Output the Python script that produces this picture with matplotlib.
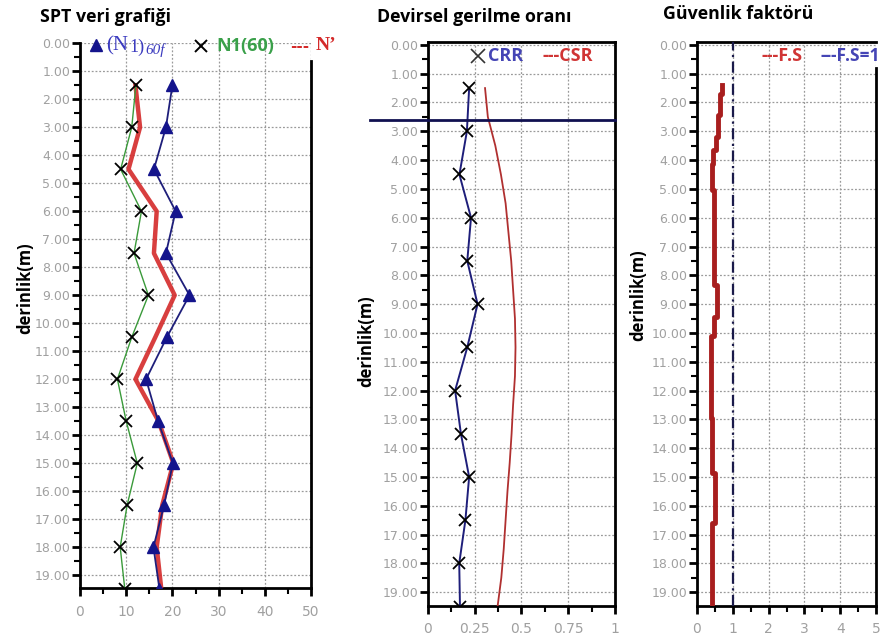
import numpy as np
import matplotlib
matplotlib.use("Agg")
import matplotlib.pyplot as plt
from matplotlib.ticker import MultipleLocator, FormatStrFormatter

# SPT data (depth in m)
spt_depth = [1.5, 3, 4.5, 6, 7.5, 9, 10.5, 12, 13.5, 15, 16.5, 18, 19.5]
n1_60f = [20, 18.6, 16, 20.7, 18.6, 23.7, 18.8, 14.3, 16.9, 20.1, 18.2, 15.9, 17.2]
n1_60 = [12.1, 11.2, 8.8, 13.3, 11.7, 14.8, 11.2, 8.1, 10, 12.4, 10.2, 8.7, 9.7]
n_prime = [12, 13, 10.5, 16.6, 16, 20.5, 16.3, 12, 17, 20.2, 17.8, 16.6, 17.6]

# cyclic stress / resistance ratio
crr = [0.22, 0.208, 0.168, 0.23, 0.21, 0.265, 0.21, 0.145, 0.176, 0.22, 0.2, 0.167, 0.171]
csr_depth = [1.5, 2.5, 3.5, 4.5, 5.5, 6.5, 7.5, 8.5, 9.5, 10.5, 11.5, 12.5,
             13.5, 14.5, 15.5, 16.5, 17.5, 18.5, 19.5]
csr = [0.305, 0.32, 0.36, 0.39, 0.415, 0.43, 0.445, 0.455, 0.465, 0.468, 0.465,
       0.455, 0.447, 0.437, 0.425, 0.415, 0.405, 0.392, 0.372]
water_depth = 2.6

# safety factor, step profile
fs_top = [1.4, 1.7, 2.45, 3.2, 3.65, 4.15, 5.05, 8.35, 9.45, 10.1, 12.95, 14.85, 16.6]
fs_bottom = 19.45
fs_val = [0.71, 0.65, 0.59, 0.52, 0.46, 0.41, 0.48, 0.55, 0.48, 0.38, 0.43, 0.50, 0.43]

GRAY = "#a0a0a0"
NAVY = "#1e1e7a"

fig = plt.figure(figsize=(8.95, 6.35), dpi=100)


def style_axis(ax, xmax, xmajor, xminor, ytop, xfmt=None):
    ax.set_xlim(0, xmax)
    ax.set_ylim(19.47, ytop)
    ax.yaxis.set_major_locator(MultipleLocator(1))
    ax.yaxis.set_minor_locator(MultipleLocator(0.5))
    ax.yaxis.set_major_formatter(FormatStrFormatter("%.2f"))
    ax.xaxis.set_major_locator(MultipleLocator(xmajor))
    ax.xaxis.set_minor_locator(MultipleLocator(xminor))
    if xfmt:
        ax.xaxis.set_major_formatter(xfmt)
    ax.tick_params(axis="y", which="major", direction="out", length=6, width=2,
                   labelsize=9, labelcolor=GRAY, pad=1)
    ax.tick_params(axis="y", which="minor", direction="out", length=4, width=1.5)
    ax.tick_params(axis="x", which="major", direction="out", length=6, width=2,
                   labelsize=10, labelcolor=GRAY, pad=6)
    ax.tick_params(axis="x", which="minor", direction="out", length=4, width=1.5)
    for s in ax.spines.values():
        s.set_linewidth(2)
    ax.grid(True, which="major", color="#9a9a9a", linestyle=(0, (1.5, 1.5)), linewidth=0.9)
    ax.set_axisbelow(True)
    ax.set_ylabel("derinlik(m)", fontsize=12, fontweight="bold", family="Open Sans",
                  labelpad=4)


# ---- panel 1: SPT ----
ax1 = fig.add_axes([80 / 895, (635 - 588.3) / 635, 231 / 895, 545 / 635])
style_axis(ax1, 50, 10, 5, 0)
ax1.spines["top"].set_visible(False)
ax1.spines["right"].set_bounds(19.47, 0.65)
ax1.plot(n_prime, spt_depth, color="#d42a2a", lw=3.2, alpha=0.9, zorder=3)
ax1.plot(n1_60, spt_depth, color="#3a9a3a", lw=1, marker="x", ms=8, mew=1.3,
         mec="black", zorder=4)
ax1.plot(n1_60f, spt_depth, color=NAVY, lw=1.3, marker="^", ms=8, mfc="#14148c",
         mec="#14148c", zorder=5)
ax1.yaxis.set_label_coords(-0.2, 0.55)

# ---- panel 2: CRR / CSR ----
ax2 = fig.add_axes([428 / 895, (635 - 605.7) / 635, 187 / 895, 563.7 / 635])
style_axis(ax2, 1, 0.25, 0.125, -0.1, FormatStrFormatter("%g"))
ax2.plot(csr, csr_depth, color="#b03030", lw=1.3, zorder=3)
ax2.plot(crr, spt_depth, color=NAVY, lw=1.4, marker="x", ms=8, mew=1.3,
         mec="black", zorder=4)
ax2.axhline(water_depth, xmin=-0.31, xmax=1, color="#101050", lw=2, clip_on=False, zorder=5)
ax2.yaxis.set_label_coords(-0.28, 0.47)

# ---- panel 3: safety factor ----
ax3 = fig.add_axes([697 / 895, (635 - 605.7) / 635, 179 / 895, 563.7 / 635])
style_axis(ax3, 5, 1, 0.5, -0.1)
ax3.spines["right"].set_bounds(19.47, 0.8)
fs_bounds = fs_top + [fs_bottom]
fs_x = np.repeat(fs_val, 2)
fs_y = np.array([[fs_bounds[i], fs_bounds[i + 1]] for i in range(len(fs_val))]).ravel()
ax3.plot(fs_x, fs_y, color="#a81e1e", lw=3.5, zorder=3)
ax3.axvline(1, color="#1a1a4a", lw=1.6, linestyle=(0, (5, 2, 1, 2)), zorder=4)
ax3.yaxis.set_label_coords(-0.28, 0.55)

# ---- titles ----
fig.text(40 / 895, 1 - 17 / 635, "SPT veri grafiği", fontsize=12.8, fontweight="bold",
         family="Open Sans", va="center")
fig.text(377 / 895, 1 - 17 / 635, "Devirsel gerilme oranı", fontsize=12.8, fontweight="bold",
         family="Open Sans", va="center")
fig.text(663 / 895, 1 - 14 / 635, "Güvenlik faktörü", fontsize=12.8, fontweight="bold",
         family="Open Sans", va="center")

# ---- legends (drawn as text like the original) ----
tf = fig.transFigure
fig.lines.append(plt.Line2D([96.5 / 895], [1 - 45 / 635], marker="^", ms=9, color="#14148c",
                            transform=tf))
fig.text(106 / 895, 1 - 46 / 635, "(N", fontsize=15, family="Liberation Serif",
         color="#3b3bbf", va="center")
fig.text(129 / 895, 1 - 47 / 635, "1)", fontsize=13, family="Liberation Serif",
         color="#3b3bbf", va="center")
fig.text(145 / 895, 1 - 50 / 635, "60f", fontsize=11, family="Liberation Serif",
         style="italic", color="#3b3bbf", va="center")
fig.lines.append(plt.Line2D([201 / 895], [1 - 46 / 635], marker="x", ms=9, mew=1.4,
                            color="black", transform=tf))
fig.text(216 / 895, 1 - 46 / 635, "N1(60)", fontsize=13, fontweight="bold",
         family="Open Sans", color="#3aa04a", va="center")
fig.text(290 / 895, 1 - 47 / 635, "---", fontsize=11, fontweight="bold",
         color="#d42a2a", va="center")
fig.text(316 / 895, 1 - 46 / 635, "N’", fontsize=14, fontweight="bold",
         family="Liberation Serif", color="#d42a2a", va="center")

fig.lines.append(plt.Line2D([478 / 895], [1 - 56 / 635], marker="x", ms=10, mew=1.2,
                            color="#333333", transform=tf))
fig.text(488 / 895, 1 - 56 / 635, "CRR", fontsize=13, fontweight="bold",
         family="Open Sans", color="#4545b5", va="center")
fig.text(543 / 895, 1 - 56 / 635, "---CSR", fontsize=13, fontweight="bold",
         family="Open Sans", color="#d03535", va="center")
fig.text(762 / 895, 1 - 56 / 635, "---F.S", fontsize=13, fontweight="bold",
         family="Open Sans", color="#d03535", va="center")
fig.text(821 / 895, 1 - 56 / 635, "---F.S=1", fontsize=12.5, fontweight="bold",
         family="Open Sans", color="#4545b5", va="center")

fig.savefig("out.png", dpi=100)
